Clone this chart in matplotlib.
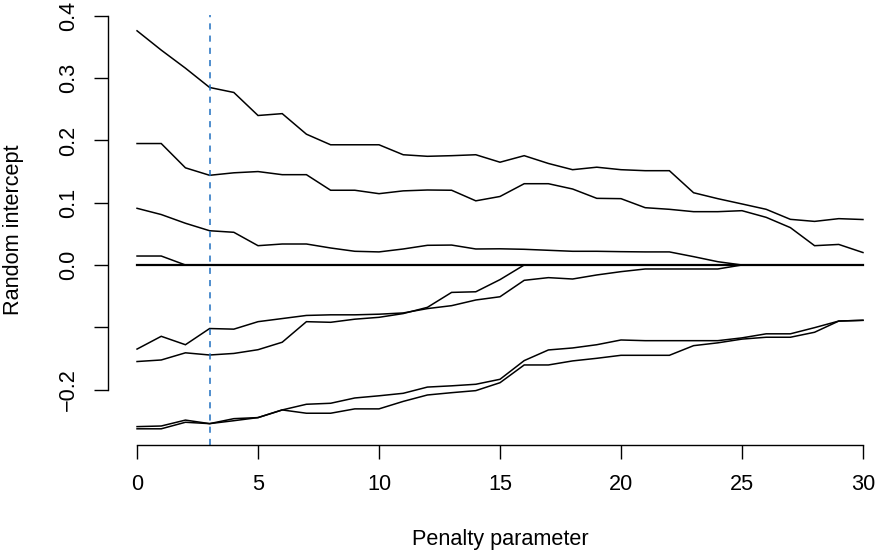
import matplotlib
matplotlib.use('Agg')
import numpy as np
import matplotlib.pyplot as plt

plt.rcParams['font.family'] = ['Liberation Sans', 'DejaVu Sans']

# Penalty grid and coefficient paths of the random intercepts
penalty = list(range(31))

path_a = [0.376, 0.345, 0.316, 0.285, 0.277, 0.240, 0.243, 0.210, 0.193, 0.193, 0.193,
          0.177, 0.1745, 0.1755, 0.177, 0.165, 0.1755, 0.163, 0.153, 0.157, 0.153,
          0.1514, 0.1514, 0.116, 0.1065, 0.098, 0.0894, 0.0733, 0.070, 0.0744, 0.073]
path_b = [0.195, 0.195, 0.156, 0.144, 0.148, 0.150, 0.145, 0.145, 0.120, 0.120, 0.1145,
          0.119, 0.1204, 0.120, 0.103, 0.110, 0.1305, 0.1305, 0.122, 0.107, 0.1065,
          0.092, 0.0894, 0.0856, 0.0856, 0.0872, 0.0765, 0.060, 0.031, 0.033, 0.020]
path_c = [0.091, 0.081, 0.067, 0.055, 0.0525, 0.031, 0.0337, 0.0337, 0.0273, 0.022, 0.021,
          0.0257, 0.0316, 0.032, 0.0257, 0.026, 0.0252, 0.0236, 0.022, 0.022, 0.0214,
          0.021, 0.021, 0.0134, 0.0053, 0.0, 0.0, 0.0, 0.0, 0.0, 0.0]
path_d = [0.0144, 0.0144, 0.0, 0.0, 0.0, 0.0, 0.0, 0.0, 0.0, 0.0, 0.0,
          0.0, 0.0, 0.0, 0.0, 0.0, 0.0, 0.0, 0.0, 0.0, 0.0,
          0.0, 0.0, 0.0, 0.0, 0.0, 0.0, 0.0, 0.0, 0.0, 0.0]
path_zero = [0.0] * 31
path_e = [-0.135, -0.1145, -0.128, -0.102, -0.103, -0.091, -0.086, -0.081, -0.080, -0.080, -0.079,
          -0.077, -0.070, -0.0653, -0.0562, -0.051, -0.0246, -0.0203, -0.0225, -0.016, -0.0107,
          -0.0064, -0.0064, -0.0064, -0.0064, 0.0, 0.0, 0.0, 0.0, 0.0, 0.0]
path_f = [-0.155, -0.1525, -0.141, -0.1445, -0.142, -0.136, -0.124, -0.091, -0.092, -0.087, -0.084,
          -0.078, -0.068, -0.044, -0.043, -0.0235, 0.0, 0.0, 0.0, 0.0, 0.0,
          0.0, 0.0, 0.0, 0.0, 0.0, 0.0, 0.0, 0.0, 0.0, 0.0]
path_g = [-0.2595, -0.2585, -0.249, -0.2547, -0.2467, -0.245, -0.2327, -0.2236, -0.222, -0.2135, -0.210,
          -0.206, -0.196, -0.194, -0.1915, -0.1835, -0.1535, -0.1364, -0.1332, -0.128, -0.1204,
          -0.1215, -0.1215, -0.1215, -0.1215, -0.117, -0.1105, -0.1105, -0.1006, -0.090, -0.0888]
path_h = [-0.263, -0.263, -0.2525, -0.2547, -0.250, -0.245, -0.2327, -0.238, -0.238, -0.231, -0.231,
          -0.219, -0.2087, -0.205, -0.2017, -0.189, -0.1605, -0.1605, -0.154, -0.1498, -0.145,
          -0.145, -0.145, -0.1295, -0.125, -0.119, -0.116, -0.116, -0.108, -0.090, -0.0888]

paths = [path_a, path_b, path_c, path_d, path_e, path_f, path_g, path_h]
chosen_penalty = 3

yticks = [-0.2, -0.1, 0.0, 0.1, 0.2, 0.3, 0.4]
ytick_labels = ['\u22120.2', '', '0.0', '0.1', '0.2', '0.3', '0.4']
xticks = [0, 5, 10, 15, 20, 25, 30]

FS = 15.6

W, H = 876, 555
fig = plt.figure(figsize=(W / 100, H / 100), dpi=100)
# Plot region in pixels (left, right, top, bottom); right edge runs past the canvas
left, right, top, bottom = 108, 892, 14.6, 445
ax = fig.add_axes([left / W, 1 - bottom / H, (right - left) / W, (bottom - top) / H])
ax.patch.set_alpha(0)

for p in paths:
    ax.plot(penalty, p, color='black', lw=1.1, solid_joinstyle='miter')
ax.plot(penalty, path_zero, color='black', lw=1.6)

ax.axvline(chosen_penalty, color='#1f6fc0', lw=1.1, ls=(0, (4, 4)))

ax.set_xlim(-1.2, 31.2)
ax.set_ylim(-0.289, 0.402)

# R-style axes: only the range spanned by the ticks is drawn
for side in ['top', 'right']:
    ax.spines[side].set_visible(False)
ax.spines['left'].set_bounds(-0.2, 0.4)
ax.spines['bottom'].set_bounds(0, 30)
for side in ['left', 'bottom']:
    ax.spines[side].set_linewidth(1.0)

ax.set_xticks(xticks)
ax.set_xticklabels([str(t) for t in xticks])
ax.set_yticks(yticks)
ax.set_yticklabels(ytick_labels, rotation=90, va='center')
ax.tick_params(axis='both', length=10, width=1.0, labelsize=FS)
ax.tick_params(axis='x', pad=11)
ax.tick_params(axis='y', pad=11)

fig.text(500 / W, 1 - 540 / H, 'Penalty parameter', ha='center', va='center', fontsize=FS)
fig.text(14 / W, 1 - 230 / H, 'Random intercept', ha='center', va='center',
         rotation=90, fontsize=FS)

fig.savefig('out.png', dpi=100)
